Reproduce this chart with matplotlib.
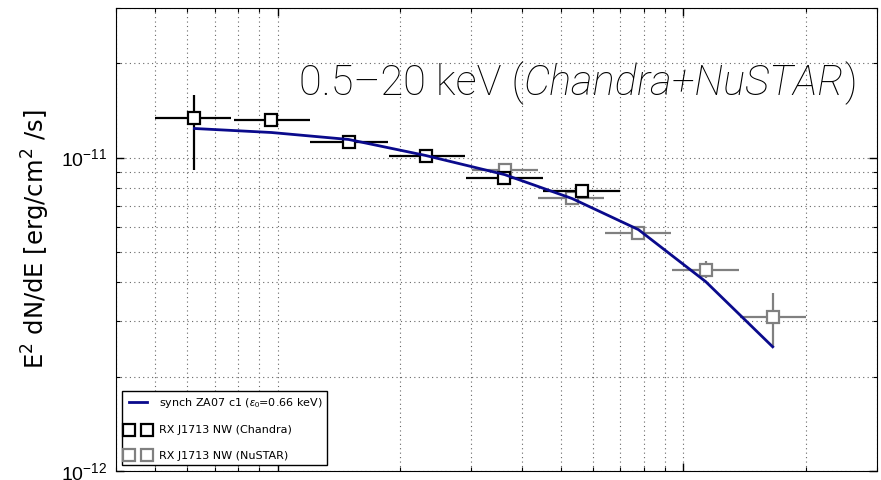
import numpy as np
import matplotlib
matplotlib.use("Agg")
import matplotlib.pyplot as plt
from matplotlib.lines import Line2D
from matplotlib.transforms import offset_copy
from matplotlib.ticker import LogLocator, FuncFormatter, NullFormatter

plt.rcParams["mathtext.fontset"] = "custom"
plt.rcParams["mathtext.rm"] = "Liberation Sans"
plt.rcParams["mathtext.it"] = "Liberation Sans:italic"

# Chandra spectrum (keV, erg/cm^2/s)
chandra_e = [0.624, 0.966, 1.497, 2.32, 3.61, 5.63]
chandra_e_lo = [0.50, 0.78, 1.20, 1.88, 2.91, 4.51]
chandra_e_hi = [0.77, 1.20, 1.87, 2.89, 4.51, 7.00]
chandra_f = [1.342e-11, 1.313e-11, 1.125e-11, 1.015e-11, 0.860e-11, 0.785e-11]
chandra_f_lo = [0.427e-11, 0.02e-11, 0.02e-11, 0.02e-11, 0.02e-11, 0.02e-11]
chandra_f_hi = [0.236e-11, 0.02e-11, 0.02e-11, 0.02e-11, 0.02e-11, 0.02e-11]

# NuSTAR spectrum
nustar_e = [3.63, 5.32, 7.75, 11.35, 16.6]
nustar_e_lo = [3.01, 4.38, 6.42, 9.39, 13.8]
nustar_e_hi = [4.38, 6.38, 9.34, 13.7, 20.0]
nustar_f = [0.915e-11, 0.745e-11, 0.576e-11, 0.439e-11, 0.310e-11]
nustar_f_lo = [0.02e-11, 0.02e-11, 0.02e-11, 0.025e-11, 0.061e-11]
nustar_f_hi = [0.02e-11, 0.02e-11, 0.02e-11, 0.030e-11, 0.060e-11]

# synchrotron model (ZA07, eps0 = 0.66 keV)
model_e = [0.624, 0.966, 1.497, 2.32, 3.63, 5.32, 7.75, 11.35, 16.6]
model_f = [1.238e-11, 1.202e-11, 1.142e-11, 1.015e-11, 0.882e-11,
           0.740e-11, 0.589e-11, 0.402e-11, 0.249e-11]

MODEL_COLOR = "#0a0a8c"
NUSTAR_COLOR = "#808080"


def xerr(e, lo, hi):
    e = np.array(e)
    return [e - np.array(lo), np.array(hi) - e]


fig = plt.figure(figsize=(8.81, 4.80), dpi=100)
ax = fig.add_axes([116 / 881, 9 / 480, 761 / 881, 463 / 480])
ax.set_xscale("log")
ax.set_yscale("log")

ebar = dict(fmt="s", ms=9, mfc="white", mew=1.6, elinewidth=1.6, capsize=0)
ax.errorbar(chandra_e, chandra_f, xerr=xerr(chandra_e, chandra_e_lo, chandra_e_hi),
            yerr=[chandra_f_lo, chandra_f_hi], color="k", mec="k", zorder=4, **ebar)
ax.errorbar(nustar_e, nustar_f, xerr=xerr(nustar_e, nustar_e_lo, nustar_e_hi),
            yerr=[nustar_f_lo, nustar_f_hi], color=NUSTAR_COLOR, mec=NUSTAR_COLOR,
            zorder=3, **ebar)
ax.plot(model_e, model_f, color=MODEL_COLOR, lw=2, zorder=5)

ax.set_xlim(0.4, 30)
ax.set_ylim(1e-12, 3e-11)

ax.xaxis.set_major_locator(LogLocator(base=10))
ax.xaxis.set_minor_locator(LogLocator(base=10, subs=np.arange(2, 10)))
ax.xaxis.set_major_formatter(NullFormatter())
ax.xaxis.set_minor_formatter(NullFormatter())
ax.yaxis.set_minor_formatter(NullFormatter())
ax.yaxis.set_major_formatter(
    FuncFormatter(lambda v, p: r"$\mathrm{10^{%d}}$" % int(round(np.log10(v)))))

ax.tick_params(which="both", direction="in", top=True, right=True)
ax.tick_params(which="major", length=6, width=1)
ax.tick_params(which="minor", length=3, width=0.8)
ax.tick_params(axis="y", labelsize=14, pad=6)

ax.grid(True, which="both", linestyle=(0, (1, 3)), color="0.4", lw=0.8)
ax.set_axisbelow(True)

ax.set_ylabel(r"E$^2$ dN/dE [erg/cm$^2$ /s]", fontsize=17.5,
              fontfamily="DejaVu Sans", labelpad=7)
ax.yaxis.label.set_math_fontfamily("dejavusans")

# energy-range caption: upright / italic / upright pieces laid end to end
tkw = dict(fontsize=30, fontfamily="Roboto", fontweight="light", va="baseline")
x0, y0 = 0.240, 0.812
pieces = [("0.5\u201320 keV (", "normal"), ("Chandra+NuSTAR", "italic"), (")", "normal")]
fig.canvas.draw()
renderer = fig.canvas.get_renderer()
shift = 0.0
for txt, style in pieces:
    t = ax.text(x0, y0, txt, fontstyle=style,
                transform=offset_copy(ax.transAxes, fig=fig, x=shift, y=0, units="dots"),
                **tkw)
    shift += t.get_window_extent(renderer).width

handles = [
    Line2D([], [], color=MODEL_COLOR, lw=2),
    Line2D([], [], marker="s", ls="none", ms=9, mfc="white", mec="k", mew=1.6),
    Line2D([], [], marker="s", ls="none", ms=9, mfc="white", mec=NUSTAR_COLOR, mew=1.6),
]
labels = [r"synch ZA07 c1 ($\varepsilon_0$=0.66 keV)",
          "RX J1713 NW (Chandra)", "RX J1713 NW (NuSTAR)"]
leg = ax.legend(handles, labels, loc="lower left", prop={"family": "DejaVu Sans", "size": 8},
                numpoints=2, fancybox=False, framealpha=1, edgecolor="k",
                handlelength=2.2, borderaxespad=0.5, labelspacing=1.4)
leg.get_frame().set_linewidth(1.0)

fig.savefig("out.png", dpi=100)
